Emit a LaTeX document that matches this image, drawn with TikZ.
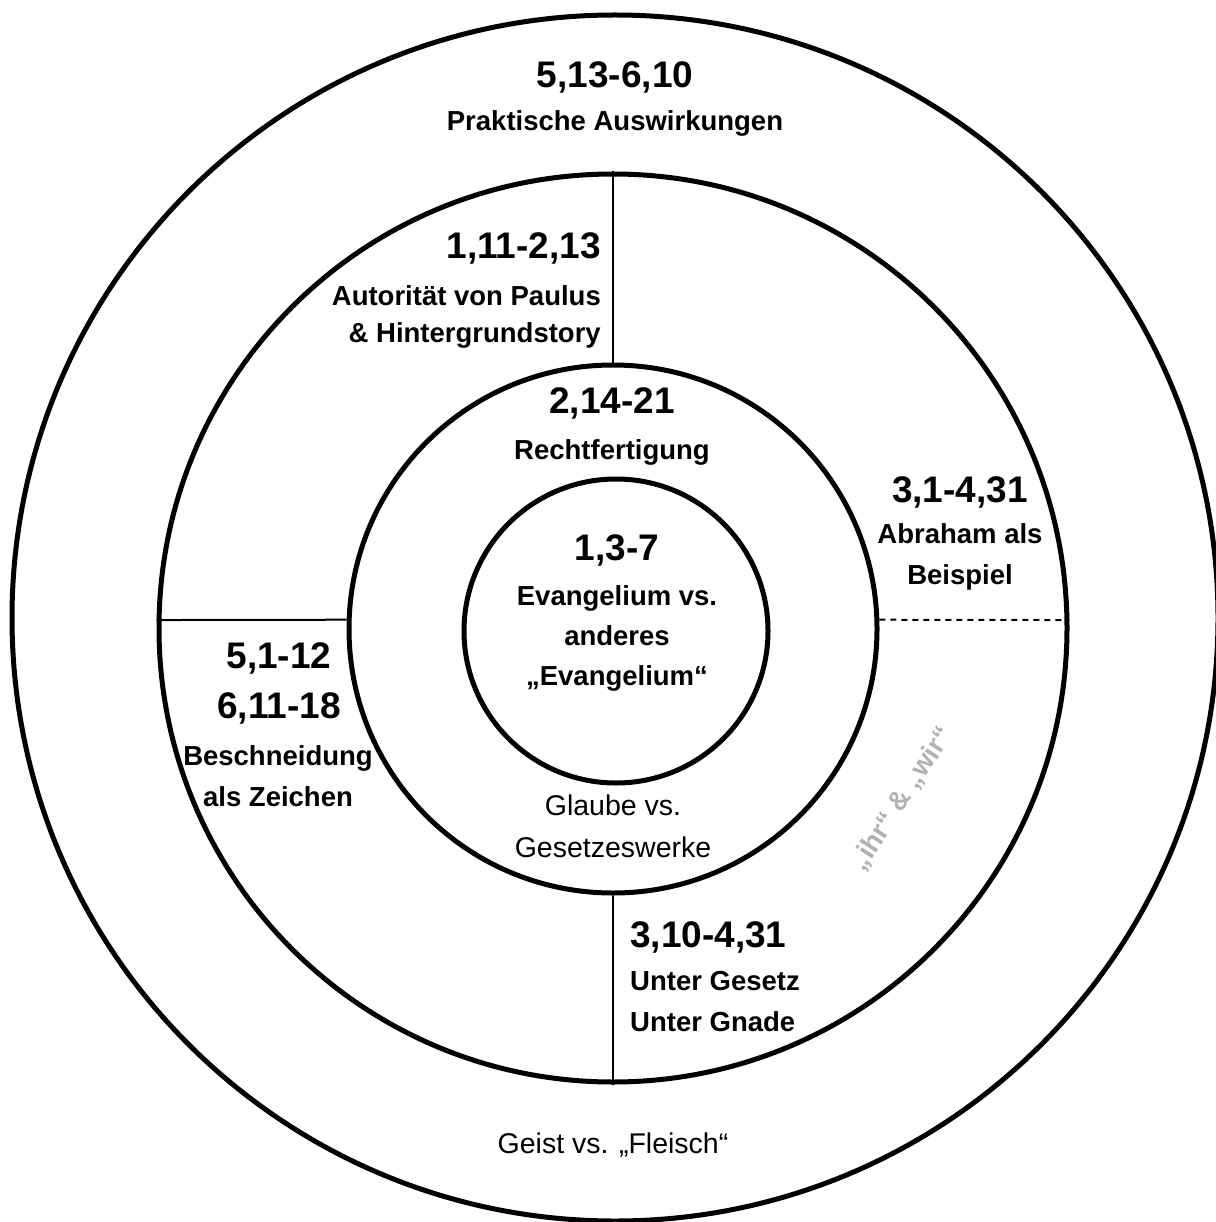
\documentclass[tikz,border=0pt]{standalone}
\usepackage{fontspec}
\setmainfont{Liberation Sans}
\definecolor{softgray}{RGB}{178,178,178}
\tikzset{
ring/.style={ % one of the nested circles
circle, draw, line width=5pt,
inner sep=0pt, minimum size=#1},
divider/.style={line width=2pt}, % thin walls between the fields
num/.style={inner sep=0pt, align=center,
font=\bfseries\fontsize{37}{50}\selectfont},
lbl/.style={inner sep=0pt, align=center,
font=\bfseries\fontsize{27.5}{41}\selectfont},
plain/.style={inner sep=0pt, align=center,
font=\fontsize{28.5}{42}\selectfont}}

\begin{document}
\begin{tikzpicture}[x=1pt,y=-1pt]
\useasboundingbox (0,0) rectangle (1215,1222);
% rings, outside in
\node[ring=1206] (outer) at (615,618) {};
\node[ring=908] (middle) at (613,628) {};
\node[ring=528] (inner) at (613,629) {};
\node[ring=304] (core) at (616,631) {};
% walls
\draw[divider] (middle.north) -- (inner.north);
\draw[divider] (inner.south) -- (middle.south);
\draw[divider] (middle.179.2) -- (inner.178.7);
\draw[divider, dash pattern=on 6pt off 5pt] (inner.2) -- (middle.1.3);
% outer ring
\node[num] (outnum) at (615,77) {5,13-6,10};
\node[lbl] (outtxt) at (615,123) {Praktische Auswirkungen};
\node[plain] (geist) at (613,1145) {Geist vs. „Fleisch“};
% middle ring
\node[num, anchor=east] (topnum) at (601,248) {1,11-2,13};
\node[lbl, align=right, anchor=east] (toptxt) at (601,317)
{Autorität von Paulus\\[-4pt]\& Hintergrundstory};
\node[num] (abrnum) at (960,492) {3,1-4,31};
\node[lbl] (abrtxt) at (960,557) {Abraham als\\Beispiel};
\node[num] (besnum) at (279,683) {5,1-12\\6,11-18};
\node[lbl] (bestxt) at (278,776) {Beschneidung\\als Zeichen};
\node[num, anchor=west] (gesnum) at (630,937) {3,10-4,31};
\node[lbl, align=left, anchor=west] (gestxt) at (630,1002) {Unter Gesetz\\Unter Gnade};
\node[lbl, text=softgray, rotate=57] (ihrwir) at (902,799) {„ihr“ \& „wir“};
% inner ring
\node[num] (ringnum) at (612,403) {2,14-21};
\node[lbl] (ringtxt) at (612,452) {Rechtfertigung};
\node[plain] (glaube) at (613,826) {Glaube vs.\\Gesetzeswerke};
% core
\node[num] (corenum) at (617,550) {1,3-7};
\node[lbl] (coretxt) at (617,638) {Evangelium vs.\\[-1pt]anderes\\[-1pt]„Evangelium“};
\end{tikzpicture}
\end{document}
